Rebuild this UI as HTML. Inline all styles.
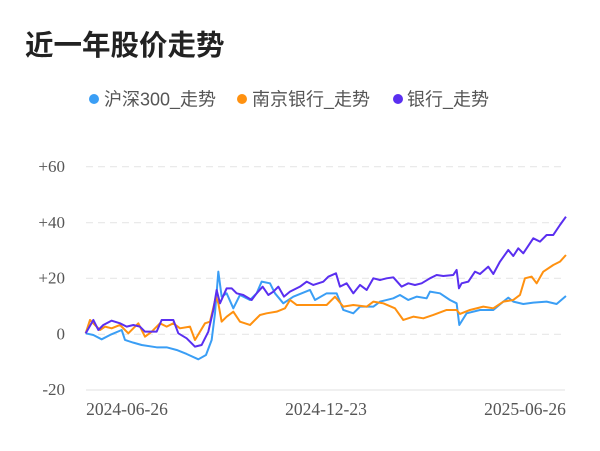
<!DOCTYPE html>
<html><head><meta charset="utf-8"><style>
body{margin:0;background:#fff;width:600px;height:446px;overflow:hidden;font-family:"Liberation Sans","Noto Sans CJK SC",sans-serif}
</style></head><body>
<svg width="600" height="446" xmlns="http://www.w3.org/2000/svg" style="font-family:'Liberation Sans','Noto Sans CJK SC',sans-serif">
<text x="25" y="55" font-size="28.5" font-weight="bold" fill="#222">近一年股价走势</text>
<circle cx="94" cy="99" r="5" fill="#3a9ef5"/><text x="104" y="105.5" font-size="18" fill="#555">沪深300_走势</text>
<circle cx="242" cy="99" r="5" fill="#ff9110"/><text x="252" y="105.5" font-size="18" fill="#555">南京银行_走势</text>
<circle cx="398" cy="99" r="5" fill="#5a2ff0"/><text x="407" y="105.5" font-size="18" fill="#555">银行_走势</text>
<g stroke="#e8e8e8" stroke-width="1.2" stroke-dasharray="7,5">
<line x1="86" y1="166.7" x2="565" y2="166.7"/><line x1="86" y1="222.7" x2="565" y2="222.7"/><line x1="86" y1="278.3" x2="565" y2="278.3"/><line x1="86" y1="334.3" x2="565" y2="334.3"/>
</g>
<line x1="86" y1="390" x2="565" y2="390" stroke="#e8e8e8" stroke-width="1.2"/>
<g font-size="17" fill="#555" text-anchor="end" font-family="'Liberation Serif',serif">
<text x="65" y="172">+60</text><text x="65" y="228">+40</text><text x="65" y="283.5">+20</text><text x="65" y="339.5">0</text><text x="65" y="395">-20</text>
</g>
<g font-size="17.5" fill="#555" text-anchor="middle" font-family="'Liberation Serif',serif">
<text x="127" y="415">2024-06-26</text><text x="326" y="415">2024-12-23</text><text x="525" y="415">2025-06-26</text>
</g>
<g transform="translate(80,150) scale(0.3333)" fill="none" stroke-width="2" stroke-linejoin="round">
<polyline vector-effect="non-scaling-stroke" stroke="#3a9ef5" points="17,550 40,555 65,568 90,555 125,540 135,570 160,578 185,585 230,592 260,592 290,600 320,612 355,628 378,615 395,570 405,490 415,365 425,440 440,430 460,475 480,435 510,450 530,430 545,395 570,400 585,430 610,460 640,440 690,420 705,450 740,430 770,430 790,480 820,490 840,470 880,470 900,455 940,445 960,435 985,450 1010,440 1040,445 1050,425 1080,430 1110,450 1130,460 1138,525 1160,490 1200,480 1240,480 1270,455 1285,443 1300,455 1330,462 1360,458 1400,455 1430,462 1458,438"/>
<polyline vector-effect="non-scaling-stroke" stroke="#ff9110" points="17,550 30,510 45,525 60,540 75,530 95,535 120,525 145,550 175,520 195,560 215,545 240,520 260,530 280,520 300,535 330,530 345,570 375,520 390,515 408,440 415,460 425,515 440,500 460,485 480,515 510,525 540,495 560,490 590,485 615,475 630,450 650,465 700,465 740,465 765,440 790,470 820,465 860,470 880,455 910,460 945,475 970,510 1000,500 1030,505 1060,495 1100,480 1130,480 1140,492 1170,480 1210,470 1240,475 1270,455 1300,450 1320,435 1335,385 1355,380 1370,400 1390,365 1420,345 1440,335 1458,315"/>
<polyline vector-effect="non-scaling-stroke" stroke="#5a2ff0" points="17,550 40,510 55,540 70,525 95,512 120,520 140,530 160,525 180,530 195,545 230,545 245,510 280,510 295,550 320,565 345,590 365,585 385,545 400,480 410,420 420,460 440,415 455,415 470,430 490,435 515,450 530,430 548,410 565,435 580,425 595,410 612,440 630,425 660,410 680,395 700,405 730,395 745,380 768,370 780,410 800,400 820,430 840,405 860,420 880,385 900,390 920,385 940,382 965,410 985,400 1005,405 1025,400 1050,385 1070,375 1090,378 1120,375 1130,360 1137,415 1145,400 1165,395 1185,365 1200,372 1225,350 1240,372 1260,335 1285,300 1300,318 1315,295 1330,310 1360,265 1380,275 1400,255 1420,255 1440,225 1458,200"/>
</g>
</svg>
</body></html>
